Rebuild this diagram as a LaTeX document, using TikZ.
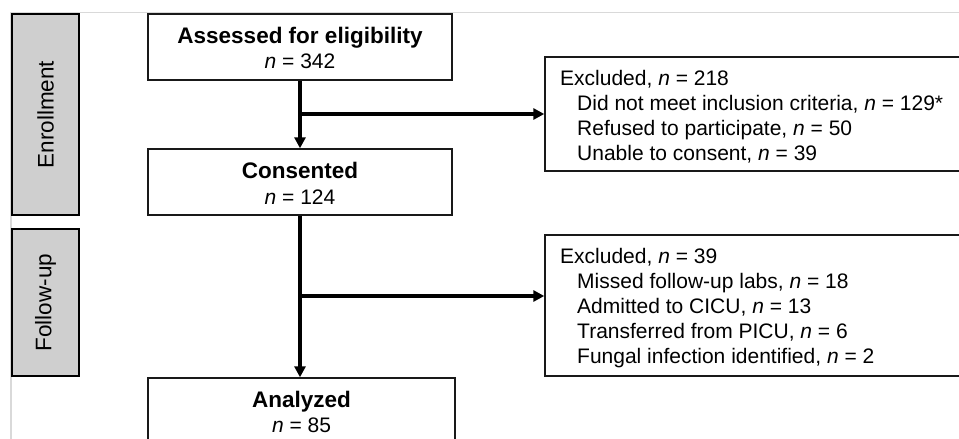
\documentclass[tikz,border=0pt]{standalone}
\usepackage{fontspec}
\setmainfont{Liberation Sans}
\usetikzlibrary{arrows.meta}
\begin{document}
\begin{tikzpicture}[x=1pt,y=-1pt,
  box/.style={draw=black!90,line width=1.4pt,fill=white,inner sep=0pt},
  phase/.style={draw=black,line width=2pt,fill=black!19,inner sep=0pt},
  txt/.style={inner sep=0pt,font=\fontsize{21}{25}\selectfont},
  ttl/.style={inner sep=0pt,font=\fontsize{22.5}{25}\selectfont\bfseries},
  lbl/.style={inner sep=0pt,font=\fontsize{22.5}{25}\selectfont},
  arr/.style={line width=4pt,-{Triangle[length=11pt,width=11pt]}},
  frame/.style={draw=black!15,line width=1.5pt}]
\useasboundingbox (0,0) rectangle (959,439);
\draw[frame] (10,12.5) -- (959,12.5);
\draw[frame] (11,12.5) -- (11,439);
% phase boxes
\node[phase,minimum width=67pt,minimum height=201pt] (enr) at (45.5,114.5) {};
\node[lbl,rotate=90] (enrt) at (enr.center) {Enrollment};
\node[phase,minimum width=67pt,minimum height=147pt] (fol) at (45.5,302.5) {};
\node[lbl,rotate=90] (folt) at (fol.center) {Follow-up};
% main boxes
\node[box,minimum width=304pt,minimum height=66pt] (assess) at (300,47) {};
\node[ttl,anchor=base] (assess1) at (300,43) {Assessed for eligibility};
\node[txt,anchor=base] (assess2) at (300,68) {\textit{n} = 342};
\node[box,minimum width=304pt,minimum height=66pt] (consent) at (300,182) {};
\node[ttl,anchor=base] (consent1) at (300,178) {Consented};
\node[txt,anchor=base] (consent2) at (300,204) {\textit{n} = 124};
\node[box,minimum width=307pt,minimum height=90pt] (anal) at (301.5,423) {};
\node[ttl,anchor=base] (anal1) at (301.5,407) {Analyzed};
\node[txt,anchor=base] (anal2) at (301.5,432) {\textit{n} = 85};
% excluded boxes
\node[box,minimum width=430pt,minimum height=114pt] (ex1) at (760,114) {};
\node[txt,anchor=base west] (ex1a) at (560,85) {Excluded, \textit{n} = 218};
\node[txt,anchor=base west] (ex1b) at (577,110) {Did not meet inclusion criteria, \textit{n} =~129*};
\node[txt,anchor=base west] (ex1c) at (577,135) {Refused to participate, \textit{n} = 50};
\node[txt,anchor=base west] (ex1d) at (577,160) {Unable to consent, \textit{n} = 39};
\node[box,minimum width=430pt,minimum height=141pt] (ex2) at (760,305.5) {};
\node[txt,anchor=base west] (ex2a) at (560,263) {Excluded, \textit{n} = 39};
\node[txt,anchor=base west] (ex2b) at (577,288) {Missed follow-up labs, \textit{n} = 18};
\node[txt,anchor=base west] (ex2c) at (577,313) {Admitted to CICU, \textit{n} = 13};
\node[txt,anchor=base west] (ex2d) at (577,338) {Transferred from PICU, \textit{n} = 6};
\node[txt,anchor=base west] (ex2e) at (577,363) {Fungal infection identified, \textit{n} = 2};
% connectors
\coordinate (b1) at (300,114);
\coordinate (b2) at (300,296);
\draw[arr] (assess.south) -- (consent.north);
\draw[arr] (b1) -- (ex1.west |- b1);
\draw[arr] (consent.south) -- (consent.south |- anal.north);
\draw[arr] (b2) -- (ex2.west |- b2);
\end{tikzpicture}
\end{document}
